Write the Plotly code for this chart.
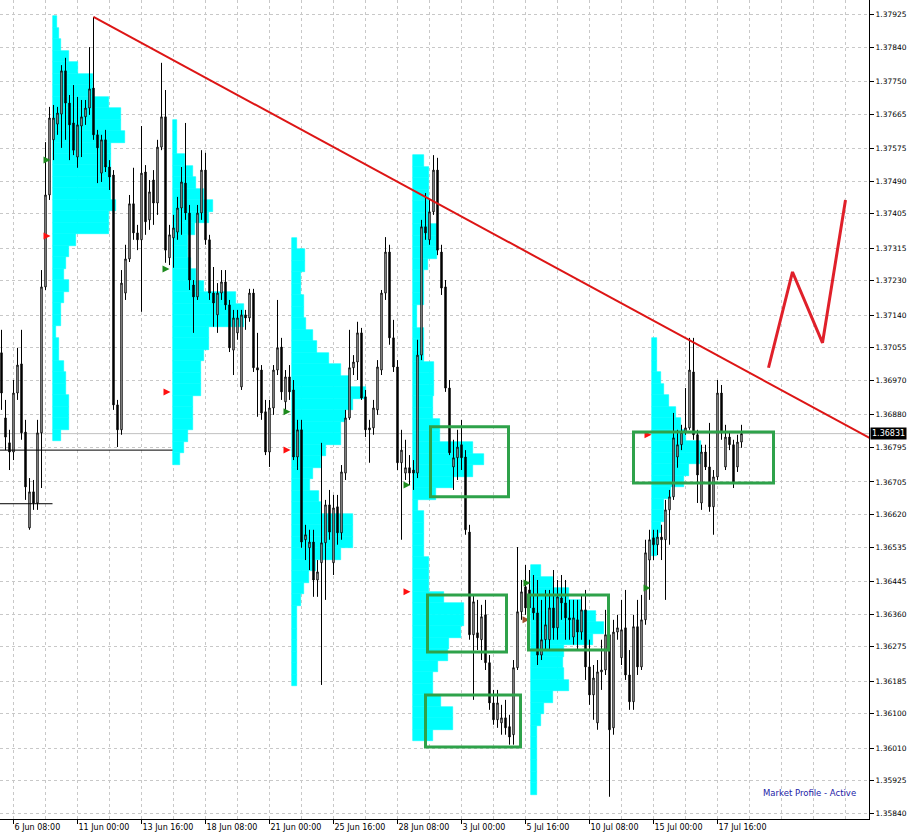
import plotly.graph_objects as go

# ---------------- candle data (H4 bars) ----------------
opens = [1.37042, 1.36872, 1.36807, 1.36783, 1.36937, 1.37013, 1.36835, 1.36585, 1.36679, 1.36650,
         1.36833, 1.37214, 1.37454, 1.37598, 1.37639, 1.37665, 1.37778, 1.37694, 1.37642, 1.37553,
         1.37634, 1.37658, 1.37681, 1.37733, 1.37611, 1.37511, 1.37598, 1.37527, 1.37506, 1.36906,
         1.36841, 1.37198, 1.37287, 1.37431, 1.37355, 1.37337, 1.37514, 1.37389, 1.37493, 1.37433,
         1.37579, 1.37658, 1.37290, 1.37342, 1.37357, 1.37420, 1.37485, 1.37407, 1.37219, 1.37188,
         1.37407, 1.37519, 1.37337, 1.37198, 1.37141, 1.37198, 1.37227, 1.37167, 1.37049, 1.37094,
         1.36953, 1.37141, 1.37133, 1.37198, 1.37003, 1.36997, 1.36888, 1.36783, 1.36898, 1.36997,
         1.37057, 1.36914, 1.36979, 1.36945, 1.36770, 1.36841, 1.36554, 1.36533, 1.36548, 1.36449,
         1.36494, 1.36546, 1.36645, 1.36494, 1.36640, 1.36572, 1.36728, 1.36872, 1.37003, 1.37018,
         1.37094, 1.36927, 1.36846, 1.36846, 1.36893, 1.36997, 1.37198, 1.37305, 1.37081, 1.37005,
         1.36755, 1.36728, 1.36742, 1.36736, 1.36728, 1.37036, 1.37371, 1.37337, 1.37410, 1.37519,
         1.37305, 1.37214, 1.36950, 1.36744, 1.36768, 1.36802, 1.36770, 1.36574, 1.36306, 1.36311,
         1.36293, 1.36358, 1.36233, 1.36128, 1.36084, 1.36076, 1.36089, 1.36066, 1.36045, 1.36220,
         1.36366, 1.36431, 1.36423, 1.36376, 1.36363, 1.36253, 1.36293, 1.36293, 1.36376, 1.36324,
         1.36402, 1.36389, 1.36350, 1.36300, 1.36345, 1.36313, 1.36371, 1.36222, 1.36149, 1.36076,
         1.36209, 1.36214, 1.36306, 1.36063, 1.36313, 1.36246, 1.36324, 1.36201, 1.36131, 1.36327,
         1.36222, 1.36345, 1.36501, 1.36559, 1.36541, 1.36561, 1.36554, 1.36632, 1.36666, 1.36770,
         1.36802, 1.36835, 1.36846, 1.36992, 1.36828, 1.36650, 1.36783, 1.36744, 1.36640, 1.36718,
         1.36937, 1.36744, 1.36822, 1.36802, 1.36744, 1.36809]
highs = [1.37102, 1.36919, 1.36841, 1.36971, 1.37055, 1.37102, 1.36867, 1.36715, 1.36710, 1.36867,
         1.37258, 1.37592, 1.37684, 1.37689, 1.37684, 1.37793, 1.37812, 1.37715, 1.37741, 1.37710,
         1.37702, 1.37702, 1.37840, 1.37919, 1.37624, 1.37611, 1.37624, 1.37545, 1.37519, 1.36919,
         1.37258, 1.37324, 1.37454, 1.37525, 1.37376, 1.37634, 1.37532, 1.37493, 1.37519, 1.37598,
         1.37799, 1.37728, 1.37376, 1.37402, 1.37449, 1.37527, 1.37642, 1.37428, 1.37232, 1.37428,
         1.37571, 1.37564, 1.37350, 1.37266, 1.37224, 1.37258, 1.37258, 1.37180, 1.37154, 1.37154,
         1.37154, 1.37154, 1.37209, 1.37209, 1.37094, 1.37010, 1.36919, 1.36919, 1.37010, 1.37180,
         1.37081, 1.36997, 1.37010, 1.36971, 1.36867, 1.36867, 1.36593, 1.36580, 1.36580, 1.36501,
         1.36807, 1.36658, 1.36684, 1.36671, 1.36671, 1.36749, 1.36893, 1.37102, 1.37036, 1.37123,
         1.37107, 1.36945, 1.36867, 1.36919, 1.37023, 1.37206, 1.37344, 1.37324, 1.37128, 1.37023,
         1.36841, 1.36815, 1.36775, 1.36762, 1.37076, 1.37389, 1.37459, 1.37441, 1.37558, 1.37551,
         1.37324, 1.37232, 1.36971, 1.36815, 1.36841, 1.36867, 1.36788, 1.36593, 1.36410, 1.36397,
         1.36384, 1.36397, 1.36253, 1.36162, 1.36162, 1.36123, 1.36136, 1.36097, 1.36240, 1.36535,
         1.36449, 1.36488, 1.36475, 1.36462, 1.36449, 1.36397, 1.36423, 1.36423, 1.36475, 1.36449,
         1.36462, 1.36449, 1.36397, 1.36397, 1.36397, 1.36410, 1.36423, 1.36293, 1.36227, 1.36240,
         1.36293, 1.36371, 1.36358, 1.36345, 1.36358, 1.36397, 1.36423, 1.36266, 1.36358, 1.36397,
         1.36410, 1.36554, 1.36580, 1.36580, 1.36580, 1.36593, 1.36658, 1.36684, 1.36885, 1.36841,
         1.36854, 1.36950, 1.37081, 1.37081, 1.36841, 1.36802, 1.36802, 1.36859, 1.36736, 1.36971,
         1.36958, 1.36854, 1.36835, 1.36815, 1.36828, 1.36854]
lows = [1.36893, 1.36788, 1.36736, 1.36762, 1.36919, 1.36815, 1.36658, 1.36580, 1.36632, 1.36632,
        1.36689, 1.37206, 1.37441, 1.37545, 1.37611, 1.37577, 1.37598, 1.37545, 1.37558, 1.37525,
        1.37553, 1.37637, 1.37663, 1.37598, 1.37485, 1.37488, 1.37514, 1.37467, 1.36893, 1.36796,
        1.36828, 1.37180, 1.37279, 1.37337, 1.37310, 1.37149, 1.37350, 1.37363, 1.37376, 1.37402,
        1.37571, 1.37277, 1.37271, 1.37264, 1.37337, 1.37350, 1.37389, 1.37206, 1.37094, 1.37180,
        1.37389, 1.37324, 1.37180, 1.37110, 1.37094, 1.37180, 1.37154, 1.37044, 1.36984, 1.37076,
        1.36945, 1.37102, 1.37123, 1.36992, 1.36875, 1.36867, 1.36775, 1.36744, 1.36880, 1.36984,
        1.36919, 1.36893, 1.36919, 1.36762, 1.36736, 1.36533, 1.36501, 1.36475, 1.36405, 1.36405,
        1.36175, 1.36397, 1.36554, 1.36462, 1.36541, 1.36554, 1.36710, 1.36867, 1.36984, 1.36971,
        1.36919, 1.36822, 1.36755, 1.36828, 1.36880, 1.36984, 1.37180, 1.37063, 1.36992, 1.36736,
        1.36554, 1.36710, 1.36697, 1.36684, 1.36715, 1.37023, 1.37337, 1.37324, 1.37402, 1.37297,
        1.37193, 1.36940, 1.36775, 1.36684, 1.36710, 1.36736, 1.36567, 1.36293, 1.36136, 1.36266,
        1.36240, 1.36214, 1.36110, 1.36071, 1.36063, 1.36045, 1.36045, 1.36019, 1.36019, 1.36214,
        1.36345, 1.36358, 1.36293, 1.36345, 1.36227, 1.36240, 1.36266, 1.36266, 1.36293, 1.36293,
        1.36345, 1.36293, 1.36293, 1.36280, 1.36266, 1.36293, 1.36188, 1.36123, 1.36084, 1.36058,
        1.36162, 1.36201, 1.35883, 1.36045, 1.36293, 1.36227, 1.36188, 1.36110, 1.36110, 1.36201,
        1.36214, 1.36332, 1.36397, 1.36501, 1.36514, 1.36501, 1.36397, 1.36541, 1.36658, 1.36742,
        1.36788, 1.36828, 1.36841, 1.36815, 1.36650, 1.36632, 1.36736, 1.36627, 1.36567, 1.36710,
        1.36815, 1.36736, 1.36788, 1.36689, 1.36731, 1.36794]
closes = [1.36937, 1.36822, 1.36783, 1.36937, 1.37010, 1.36833, 1.36692, 1.36679, 1.36650, 1.36833,
          1.37214, 1.37454, 1.37655, 1.37655, 1.37668, 1.37778, 1.37694, 1.37637, 1.37571, 1.37637,
          1.37658, 1.37681, 1.37731, 1.37611, 1.37577, 1.37598, 1.37527, 1.37501, 1.36906, 1.36841,
          1.37224, 1.37287, 1.37431, 1.37355, 1.37337, 1.37511, 1.37384, 1.37462, 1.37433, 1.37579,
          1.37658, 1.37310, 1.37350, 1.37368, 1.37420, 1.37488, 1.37407, 1.37232, 1.37188, 1.37407,
          1.37519, 1.37337, 1.37198, 1.37172, 1.37198, 1.37227, 1.37167, 1.37055, 1.37133, 1.37133,
          1.37141, 1.37133, 1.37198, 1.37003, 1.36997, 1.36885, 1.36783, 1.36898, 1.36997, 1.37055,
          1.36940, 1.36979, 1.36940, 1.36770, 1.36841, 1.36548, 1.36567, 1.36548, 1.36449, 1.36470,
          1.36546, 1.36645, 1.36574, 1.36637, 1.36572, 1.36731, 1.36872, 1.37003, 1.37018, 1.37094,
          1.36924, 1.36841, 1.36841, 1.36898, 1.37005, 1.37198, 1.37305, 1.37081, 1.37005, 1.36755,
          1.36788, 1.36742, 1.36728, 1.36728, 1.37036, 1.37371, 1.37355, 1.37410, 1.37519, 1.37310,
          1.37211, 1.36950, 1.36781, 1.36768, 1.36796, 1.36768, 1.36580, 1.36306, 1.36392, 1.36298,
          1.36353, 1.36233, 1.36128, 1.36084, 1.36128, 1.36089, 1.36063, 1.36039, 1.36220, 1.36366,
          1.36418, 1.36376, 1.36376, 1.36363, 1.36253, 1.36293, 1.36332, 1.36376, 1.36324, 1.36405,
          1.36389, 1.36350, 1.36345, 1.36350, 1.36313, 1.36371, 1.36222, 1.36149, 1.36193, 1.36209,
          1.36214, 1.36306, 1.36058, 1.36313, 1.36324, 1.36319, 1.36201, 1.36131, 1.36327, 1.36222,
          1.36345, 1.36520, 1.36554, 1.36541, 1.36561, 1.36554, 1.36632, 1.36666, 1.36820, 1.36802,
          1.36835, 1.36846, 1.36997, 1.36828, 1.36723, 1.36783, 1.36744, 1.36640, 1.36718, 1.36937,
          1.36833, 1.36822, 1.36802, 1.36705, 1.36809, 1.36831]
bar_index = list(range(len(opens)))

# ---------------- axis labels ----------------
time_tick_index = [3, 19, 35, 51, 67, 83, 99, 115, 131, 147, 163, 179]
time_tick_text = ["6 Jun 08:00", "11 Jun 00:00", "13 Jun 16:00", "18 Jun 08:00", "21 Jun 00:00",
                  "25 Jun 16:00", "28 Jun 08:00", "3 Jul 00:00", "5 Jul 16:00", "10 Jul 08:00",
                  "15 Jul 00:00", "17 Jul 16:00"]
price_ticks = [1.37925, 1.37840, 1.37750, 1.37665, 1.37575, 1.37490, 1.37405, 1.37315, 1.37230,
               1.37140, 1.37055, 1.36970, 1.36880, 1.36795, 1.36705, 1.36620, 1.36535, 1.36445,
               1.36360, 1.36275, 1.36185, 1.36100, 1.36010, 1.35925, 1.35840]
last_price = 1.36831

# ---------------- market profiles (widths in bars, one per price bin) ----------------
profile_bin = 0.0003
profile_start = [12.75, 42.75, 72.5, 102.75, 132.25, 162.5]
profile_top = [1.37921, 1.37650, 1.37342, 1.37558, 1.36488, 1.37081]
profile1_widths = [1, 1.5, 2, 4, 6.25, 10, 10, 14, 17, 17, 18, 14.5, 14.5, 14.5, 14.5, 14.5, 15.75,
                   14, 14, 5.75, 4, 3.25, 2.75, 4, 2.75, 2, 2, 0.75, 1.5, 1.5, 2.75, 3.25, 3.25, 4,
                   4, 4, 2]
profile2_widths = [1, 1, 1, 3, 5, 5.75, 7.75, 10, 9, 5.5, 3.75, 3.75, 4.5, 5.75, 7.75, 15.75, 17.75,
                   17.75, 9, 9, 7.75, 7, 7, 7, 5, 5, 5, 3.75, 2.75, 1.75]
profile3_widths = [1.25, 3.25, 3.25, 2.25, 2.25, 3, 3, 3.5, 5.25, 6.25, 9.25, 12.25, 14.25, 18.5,
                   15.25, 13.5, 12.25, 12.25, 8.5, 7.25, 5.25, 4.5, 6.75, 7.25, 15.25, 15.25, 15.25,
                   12.25, 6, 4.25, 3, 2.25, 1.25, 1.25, 1.25, 1.25, 1.25, 1.25, 1.25]
profile4_widths = [2.75, 4, 4, 4, 4, 4, 6, 6, 6, 3.75, 2.75, 2.75, 2.75, 1, 1, 2.75, 2.75, 2.75,
                   5.25, 5.25, 5.25, 5, 5, 6.75, 6.75, 15, 17.75, 15, 10, 5.75, 1.25, 2.75, 2.75,
                   2.75, 2.75, 4, 4, 4, 7.75, 12.75, 12.75, 12, 9, 8.75, 6.25, 5, 5, 7, 10, 10, 5]
profile5_widths = [2.5, 5.5, 9.5, 12.5, 16.25, 18.25, 15.5, 8.25, 8, 8.25, 9.5, 5.5, 3.25, 2.5,
                   1.5, 1.5, 1.5, 1.5, 1.5, 1.5]
profile6_widths = [1.25, 1.25, 1.25, 2.25, 3, 4.25, 6, 7.25, 8.5, 12.25, 12.25, 9.25, 8, 4.75, 3,
                   3, 2.25, 1.75, 1.25]
profile_widths = [profile1_widths, profile2_widths, profile3_widths,
                  profile4_widths, profile5_widths, profile6_widths]

# profile markers (arrows at the profile start)
green_mark_x = [12.25, 42.0, 72.25, 102.25, 132.25, 162.25]
green_mark_y = [1.37545, 1.37261, 1.36888, 1.36697, 1.36441, 1.36428]
red_mark_x = [12.25, 42.25, 72.25, 102.25, 162.5]
red_mark_y = [1.37347, 1.36940, 1.36788, 1.36418, 1.36828]
brown_mark_x = [132.0]
brown_mark_y = [1.36345]

# level lines drawn to the left of profiles
level_lines = [(-0.4, 42.75, 1.36788), (-0.4, 12.75, 1.36648)]

# ---------------- hand drawn objects ----------------
trend_x = [23, 217.0]
trend_y = [1.37919, 1.36820]
zigzag_x = [191.75, 197.75, 205.25, 211.0]
zigzag_y = [1.37003, 1.37253, 1.37068, 1.37441]
boxes = [  # x0, x1 (bars), price low, price high
    (107.25, 126.75, 1.36666, 1.36849),
    (106.5, 126.25, 1.36261, 1.36410),
    (106.0, 129.75, 1.36013, 1.36149),
    (131.75, 151.75, 1.36266, 1.36410),
    (158.0, 193.0, 1.36702, 1.36835),
]

fig = go.Figure()

CYAN = "#00FFFF"
for start, top, widths in zip(profile_start, profile_top, profile_widths):
    levels = [top - profile_bin * (k + 0.5) for k in range(len(widths))]
    fig.add_trace(go.Bar(orientation="h", y=levels, x=widths, base=start, width=profile_bin,
                         marker=dict(color=CYAN, line=dict(color=CYAN, width=0.6)),
                         hoverinfo="skip"))

fig.add_trace(go.Candlestick(
    x=bar_index, open=opens, high=highs, low=lows, close=closes,
    increasing=dict(line=dict(color="black", width=1), fillcolor="white"),
    decreasing=dict(line=dict(color="black", width=1), fillcolor="black"),
    whiskerwidth=0, hoverinfo="skip"))

for x0, x1, lvl in level_lines:
    fig.add_trace(go.Scatter(x=[x0, x1], y=[lvl, lvl], mode="lines",
                             line=dict(color="black", width=1), hoverinfo="skip"))

fig.add_trace(go.Scatter(x=trend_x, y=trend_y, mode="lines",
                         line=dict(color="#DD1515", width=2), hoverinfo="skip"))
fig.add_trace(go.Scatter(x=zigzag_x, y=zigzag_y, mode="lines",
                         line=dict(color="#E0202A", width=3), hoverinfo="skip"))

fig.add_trace(go.Scatter(x=green_mark_x, y=green_mark_y, mode="markers",
                         marker=dict(symbol="arrow-right", size=7, color="#1E8B1E"), hoverinfo="skip"))
fig.add_trace(go.Scatter(x=red_mark_x, y=red_mark_y, mode="markers",
                         marker=dict(symbol="arrow-right", size=7, color="#FF1010"), hoverinfo="skip"))
fig.add_trace(go.Scatter(x=brown_mark_x, y=brown_mark_y, mode="markers",
                         marker=dict(symbol="arrow-right", size=7, color="#A0522D"), hoverinfo="skip"))

shapes = [dict(type="line", xref="paper", x0=0, x1=1, yref="y", y0=last_price, y1=last_price,
               line=dict(color="#C0C0C0", width=1), layer="below")]
for x0, x1, lo, hi in boxes:
    shapes.append(dict(type="rect", xref="x", yref="y", x0=x0, x1=x1, y0=lo, y1=hi,
                       line=dict(color="#2EA24A", width=3), fillcolor="rgba(0,0,0,0)",
                       layer="above"))

GRID = "#C8C8C8"
fig.update_layout(
    width=918, height=840,
    margin=dict(l=0, r=49, t=0, b=21),
    plot_bgcolor="white", paper_bgcolor="white",
    showlegend=False, barmode="overlay", bargap=0, boxgap=0.5,
    font=dict(family="DejaVu Sans", size=8, color="black"),
    shapes=shapes,
    annotations=[
        dict(xref="paper", x=1, xanchor="left", yref="y", y=last_price, yanchor="middle",
             text="1.36831", showarrow=False, bgcolor="black",
             font=dict(color="white", size=8, family="DejaVu Sans"), borderpad=1, xshift=1),
        dict(xref="paper", x=0.987, xanchor="right", yref="paper", y=0.032, yanchor="middle",
             text="Market Profile - Active", showarrow=False,
             font=dict(color="#2323A8", size=8.5, family="DejaVu Sans")),
    ],
    xaxis=dict(range=[-0.375, 216.875], tickmode="array", tickvals=time_tick_index,
               ticktext=time_tick_text, ticks="outside", ticklen=4, tickcolor="black",
               ticklabelposition="outside right",
               showgrid=True, gridcolor=GRID, griddash="3px,3px", gridwidth=1,
               minor=dict(tickmode="linear", tick0=3, dtick=8, showgrid=True,
                          gridcolor=GRID, griddash="3px,3px", gridwidth=1),
               showline=True, linecolor="black", linewidth=1, zeroline=False,
               rangeslider=dict(visible=False), automargin=False, fixedrange=True),
    yaxis=dict(side="right", range=[1.35825, 1.37963], tickmode="array", tickvals=price_ticks,
               ticktext=["%.5f" % v for v in price_ticks], ticks="outside", ticklen=4,
               tickcolor="black", showgrid=True, gridcolor=GRID, griddash="3px,3px",
               gridwidth=1, showline=True, linecolor="black", linewidth=1, zeroline=False,
               automargin=False, fixedrange=True, tickfont=dict(size=7.5)),
)

fig.write_html("out.html", config={"displayModeBar": False},
               post_script="document.body.style.margin='0px';")
